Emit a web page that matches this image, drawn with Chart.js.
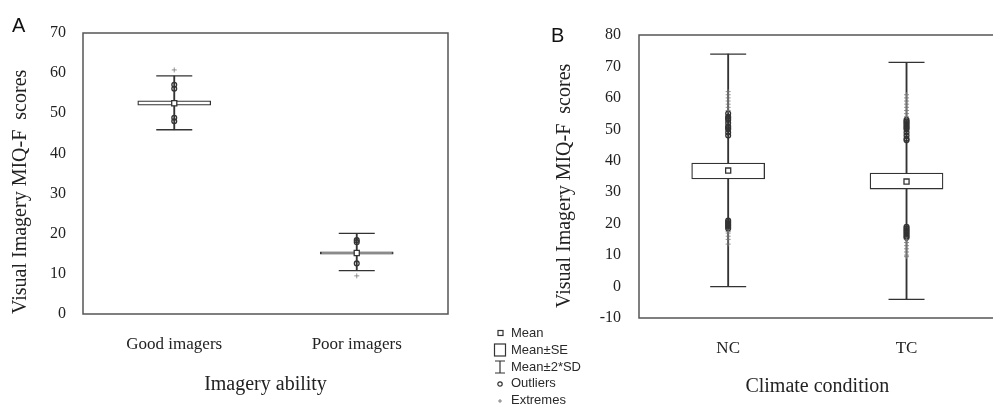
<!DOCTYPE html>
<html>
<head>
<meta charset="utf-8">
<script src="https://cdn.jsdelivr.net/npm/chart.js@4.4.1/dist/chart.umd.min.js"></script>
<style>
    html, body { margin: 0; padding: 0; background: #fff; overflow: hidden; width: 993px; height: 408px; }
    .wrap { position: absolute; top: 0; height: 408px; }
    #wrapA { left: 0; width: 470px; }
    #wrapB { left: 470px; width: 545px; }
    .panel { position: absolute; font-family: 'Liberation Sans', Arial, sans-serif; font-size: 20px; color: #111; line-height: 1; }
    #legend { position: absolute; left: 490px; top: 325px; font-family: 'Liberation Sans', Arial, sans-serif; font-size: 13px; color: #2a2a2a; }
    #legend .li { height: 16.8px; line-height: 16.8px; display: flex; align-items: center; }
    #legend svg { width: 21px; height: 16px; flex: none; }
</style>
</head>
<body>
<div class="wrap" id="wrapA"><canvas id="chartA" width="470" height="408"></canvas></div>
<div class="wrap" id="wrapB"><canvas id="chartB" width="545" height="408"></canvas></div>
<div class="panel" style="left:12px; top:15px;">A</div>
<div class="panel" style="left:551px; top:25px;">B</div>
<div id="legend">
    <div class="li"><svg><rect x="8" y="5.5" width="5" height="5" fill="#fff" stroke="#333" stroke-width="1.2"/></svg>Mean</div>
    <div class="li"><svg><rect x="4.5" y="2" width="11" height="12" fill="#fff" stroke="#333" stroke-width="1.2"/></svg>Mean±SE</div>
    <div class="li"><svg><path d="M5 2H15M10 2V14M5 14H15" stroke="#333" stroke-width="1.2" fill="none"/></svg>Mean±2*SD</div>
    <div class="li"><svg><circle cx="10" cy="8" r="2.2" fill="none" stroke="#333" stroke-width="1.2"/></svg>Outliers</div>
    <div class="li"><svg><path d="M8 8H12M10 6V10" stroke="#666" stroke-width="0.8"/></svg>Extremes</div>
</div>
<script>
// Panel A - imagery ability
const groupsA = ['Good imagers', 'Poor imagers'];
const meanA = [52.5, 15.2];
const seLowA = [52.0, 14.9];
const seHighA = [53.1, 15.5];
const sdLowA = [45.9, 10.8];
const sdHighA = [59.3, 20.1];
const outliersA = [[57.1, 56.1, 48.9, 48.0], [18.4, 17.9, 12.6]];
const extremesA = [[60.8], [9.5]];

// Panel B - climate condition
const groupsB = ['NC', 'TC'];
const meanB = [36.9, 33.4];
const seLowB = [34.2, 31.0];
const seHighB = [39.3, 36.1];
const sdLowB = [0, -4.1];
const sdHighB = [73.9, 71.3];
const outliersB = [
    [48, 49, 50, 50.5, 51, 52, 53, 53.5, 54, 55, 21, 20.5, 20, 19.5, 19, 18.5],
    [46.5, 47, 48, 49, 50, 50.5, 51, 51.5, 52, 52.5, 53, 19, 18.5, 18, 17.5, 17, 16.5, 16, 15.5]
];
const extremesB = [
    [56, 57, 58, 59, 60, 61, 62, 17.5, 17, 16, 15, 13.5],
    [54, 55, 56, 57, 58, 59, 60, 61, 15, 14, 13, 12, 11, 10, 9.5]
];

const lineColor = '#333';
const textColor = '#222';
const serif = "'Liberation Serif', 'Times New Roman', serif";

Chart.defaults.animation = false;

// draws the rectangle around the plot area
const framePlugin = {
    id: 'frame',
    beforeDatasetsDraw(chart) {
        const { ctx, chartArea: a } = chart;
        ctx.save();
        ctx.strokeStyle = '#555';
        ctx.lineWidth = 1.5;
        ctx.strokeRect(a.left, a.top, a.right - a.left, a.bottom - a.top);
        ctx.restore();
    }
};

function points(groups, lists) {
    const out = [];
    lists.forEach((vals, i) => vals.forEach(v => out.push({ x: groups[i], y: v })));
    return out;
}

function makeChart(id, cfg) {
    const ctx = document.getElementById(id).getContext('2d');
    return new Chart(ctx, {
        type: 'bar',
        data: {
            labels: cfg.groups,
            datasets: [
                {
                    label: 'Mean±2*SD',
                    data: cfg.sdLow.map((v, i) => [v, cfg.sdHigh[i]]),
                    backgroundColor: lineColor,
                    borderWidth: 0,
                    barThickness: 1.2,
                    grouped: false,
                    order: 5
                },
                {
                    type: 'line',
                    label: 'SD caps high',
                    data: cfg.sdHigh,
                    showLine: false,
                    pointStyle: 'line',
                    pointRadius: 18,
                    borderColor: lineColor,
                    borderWidth: 1.3,
                    order: 4
                },
                {
                    type: 'line',
                    label: 'SD caps low',
                    data: cfg.sdLow,
                    showLine: false,
                    pointStyle: 'line',
                    pointRadius: 18,
                    borderColor: lineColor,
                    borderWidth: 1.3,
                    order: 4
                },
                {
                    label: 'Mean±SE',
                    data: cfg.seLow.map((v, i) => [v, cfg.seHigh[i]]),
                    backgroundColor: '#fff',
                    borderColor: lineColor,
                    borderWidth: 1.3,
                    borderSkipped: false,
                    barThickness: 73,
                    grouped: false,
                    order: 3
                },
                {
                    type: 'line',
                    label: 'Mean',
                    data: cfg.mean,
                    showLine: false,
                    pointStyle: 'rect',
                    pointRadius: 3.6,
                    backgroundColor: '#fff',
                    borderColor: lineColor,
                    borderWidth: 1.3,
                    order: 2
                },
                {
                    type: 'line',
                    label: 'Outliers',
                    data: points(cfg.groups, cfg.outliers),
                    showLine: false,
                    pointStyle: 'circle',
                    pointRadius: 2.4,
                    backgroundColor: 'rgba(0,0,0,0)',
                    borderColor: '#333',
                    borderWidth: 1.3,
                    order: 1
                },
                {
                    type: 'line',
                    label: 'Extremes',
                    data: points(cfg.groups, cfg.extremes),
                    showLine: false,
                    pointStyle: 'cross',
                    pointRadius: 2.5,
                    borderColor: '#777',
                    borderWidth: 0.8,
                    order: 0
                }
            ]
        },
        options: {
            responsive: false,
            events: [],
            layout: { padding: { top: cfg.padTop, right: cfg.padRight, left: 0, bottom: 0 } },
            plugins: {
                legend: { display: false },
                tooltip: { enabled: false }
            },
            scales: {
                x: {
                    offset: true,
                    grid: { display: false, drawTicks: false },
                    border: { display: false },
                    ticks: { color: textColor, font: { family: serif, size: 17 }, padding: 20 },
                    title: {
                        display: true,
                        text: cfg.xTitle,
                        color: textColor,
                        font: { family: serif, size: 20 },
                        padding: { top: 0, bottom: cfg.xTitlePad }
                    },
                    afterFit: s => { s.height = cfg.xHeight; }
                },
                y: {
                    min: cfg.yMin,
                    max: cfg.yMax,
                    grid: { display: false, drawTicks: false },
                    border: { display: false },
                    ticks: { stepSize: 10, color: textColor, font: { family: serif, size: 16 }, padding: cfg.yTickPad },
                    title: {
                        display: true,
                        text: cfg.yTitle,
                        align: 'start',
                        color: textColor,
                        font: { family: serif, size: 20 },
                        padding: { top: cfg.yTitlePad, bottom: 0 }
                    },
                    afterFit: s => { s.width = cfg.yWidth; }
                }
            }
        },
        plugins: [framePlugin]
    });
}

makeChart('chartA', {
    groups: groupsA, mean: meanA, seLow: seLowA, seHigh: seHighA,
    sdLow: sdLowA, sdHigh: sdHighA, outliers: outliersA, extremes: extremesA,
    yMin: 0, yMax: 70,
    xTitle: 'Imagery ability', yTitle: 'Visual Imagery MIQ-F  scores',
    padTop: 33, padRight: 22, xHeight: 94, yWidth: 83,
    xTitlePad: 11, yTitlePad: 9, yTickPad: 17
});

makeChart('chartB', {
    groups: groupsB, mean: meanB, seLow: seLowB, seHigh: seHighB,
    sdLow: sdLowB, sdHigh: sdHighB, outliers: outliersB, extremes: extremesB,
    yMin: -10, yMax: 80,
    xTitle: 'Climate condition', yTitle: '  Visual Imagery MIQ-F  scores',
    padTop: 35, padRight: 10, xHeight: 90, yWidth: 169,
    xTitlePad: 9, yTitlePad: 83, yTickPad: 18
});
</script>
</body>
</html>
